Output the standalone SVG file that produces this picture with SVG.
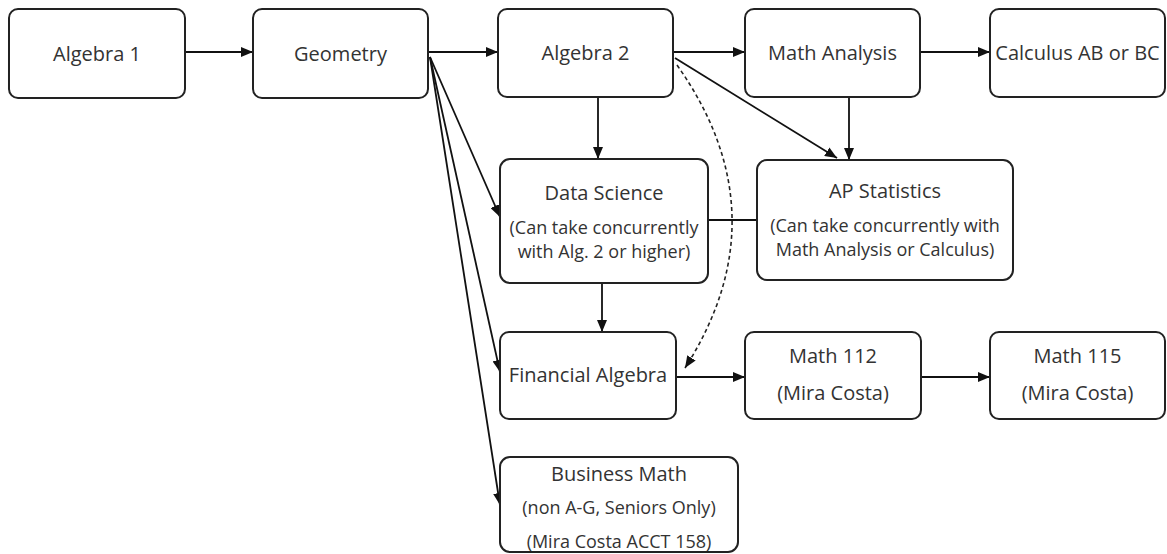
<svg xmlns="http://www.w3.org/2000/svg" width="1167" height="554" viewBox="0 0 1167 554">
<style>
.box{fill:#fff;stroke:#222;stroke-width:2}
.t{font-family:"Open Sans","Liberation Sans",sans-serif;font-size:20px;fill:#333;text-anchor:middle}
.s{font-family:"Open Sans","Liberation Sans",sans-serif;font-size:18px;fill:#333;text-anchor:middle}
.c{fill:none;stroke:#111;stroke-width:1.8}
.d{fill:none;stroke:#222;stroke-width:1.6;stroke-dasharray:4 3}
</style>
<defs>
<marker id="ah" markerUnits="userSpaceOnUse" markerWidth="12" markerHeight="10" refX="12" refY="5" orient="auto">
<path d="M0,0 L12,5 L0,10 z" fill="#111"/>
</marker>
</defs>
<rect width="1167" height="554" fill="#fff"/>
<g id="connectors">
<path class="c" d="M185,52 H253" marker-end="url(#ah)"/>
<path class="c" d="M428,52 H498" marker-end="url(#ah)"/>
<path class="c" d="M673,52 H745" marker-end="url(#ah)"/>
<path class="c" d="M920,52 H990" marker-end="url(#ah)"/>
<path class="c" d="M598,97 V159" marker-end="url(#ah)"/>
<path class="c" d="M849,97 V160" marker-end="url(#ah)"/>
<path class="c" d="M675,58 L837,158" marker-end="url(#ah)"/>
<path class="c" d="M430,57 L500,217" marker-end="url(#ah)"/>
<path class="c" d="M430,57 L500,372" marker-end="url(#ah)"/>
<path class="c" d="M430,57 L500,505" marker-end="url(#ah)"/>
<path class="c" d="M602,283 V332" marker-end="url(#ah)"/>
<path class="c" d="M676,377 H745" marker-end="url(#ah)"/>
<path class="c" d="M921,377 H990" marker-end="url(#ah)"/>
<path class="c" d="M708,220 H757"/>
<path class="d" d="M677,65 Q783,215 685,368" marker-end="url(#ah)"/>
</g>
<g id="algebra1"><rect class="box" x="9" y="9" width="176" height="89" rx="9"/><text class="t" x="97" y="61">Algebra 1</text></g>
<g id="geometry"><rect class="box" x="253" y="9" width="175" height="89" rx="9"/><text class="t" x="340.5" y="61">Geometry</text></g>
<g id="algebra2"><rect class="box" x="498" y="9" width="175" height="88" rx="9"/><text class="t" x="585.5" y="60">Algebra 2</text></g>
<g id="mathanalysis"><rect class="box" x="745" y="9" width="175" height="88" rx="9"/><text class="t" x="832.5" y="60">Math Analysis</text></g>
<g id="calculus"><rect class="box" x="990" y="9" width="175" height="88" rx="9"/><text class="t" x="1077.5" y="60">Calculus AB or BC</text></g>
<g id="datascience"><rect class="box" x="500" y="159" width="208" height="124" rx="10"/><text class="t" x="604" y="200">Data Science</text><text class="s" x="604" y="234">(Can take concurrently</text><text class="s" x="604" y="258">with Alg. 2 or higher)</text></g>
<g id="apstatistics"><rect class="box" x="757" y="160" width="256" height="120" rx="10"/><text class="t" x="885" y="198">AP Statistics</text><text class="s" x="885" y="232">(Can take concurrently with</text><text class="s" x="885" y="256">Math Analysis or Calculus)</text></g>
<g id="financialalgebra"><rect class="box" x="500" y="332" width="176" height="87" rx="9"/><text class="t" x="588" y="382">Financial Algebra</text></g>
<g id="math112"><rect class="box" x="745" y="332" width="176" height="87" rx="9"/><text class="t" x="833" y="363">Math 112</text><text class="t" x="833" y="400">(Mira Costa)</text></g>
<g id="math115"><rect class="box" x="990" y="332" width="175" height="87" rx="9"/><text class="t" x="1077.5" y="363">Math 115</text><text class="t" x="1077.5" y="400">(Mira Costa)</text></g>
<g id="businessmath"><rect class="box" x="500" y="457" width="238" height="95" rx="10"/><text class="t" x="619" y="481">Business Math</text><text class="s" x="619" y="514">(non A-G, Seniors Only)</text><text class="s" x="619" y="548">(Mira Costa ACCT 158)</text></g>
</svg>
